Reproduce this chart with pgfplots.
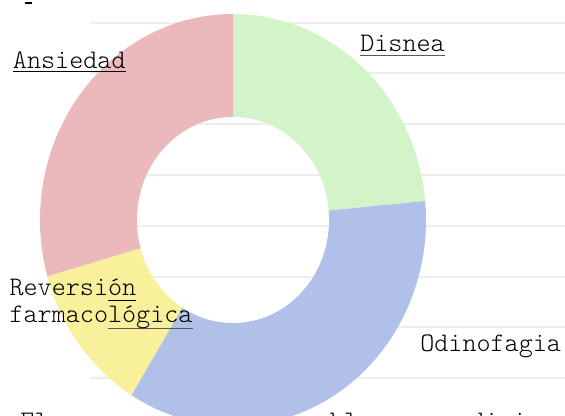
\documentclass[border=0pt]{standalone}
\usepackage{pgfplots}
\usepackage{pgfplotstable}
\pgfplotsset{compat=1.18}
\usepackage{fontspec}
\newfontfamily\lmlight{Latin Modern Mono Light}

\definecolor{cDisnea}{HTML}{D2F4C8}
\definecolor{cOdino}{HTML}{B0C0E8}
\definecolor{cRever}{HTML}{F9F09B}
\definecolor{cAnsie}{HTML}{EBB9BC}
\definecolor{linecol}{HTML}{EEEEEE}

% counts per category
\pgfplotstableread[col sep=comma]{
label,value
Disnea,4
Odinofagia,6
Reversion,2
Ansiedad,5
}\datatable
\pgfplotstablegetelem{0}{value}\of\datatable\let\vA\pgfplotsretval
\pgfplotstablegetelem{1}{value}\of\datatable\let\vB\pgfplotsretval
\pgfplotstablegetelem{2}{value}\of\datatable\let\vC\pgfplotsretval
\pgfplotstablegetelem{3}{value}\of\datatable\let\vD\pgfplotsretval
\pgfmathsetmacro\tot{\vA+\vB+\vC+\vD}
\pgfmathsetmacro\aA{90-360*\vA/\tot}
\pgfmathsetmacro\aB{\aA-360*\vB/\tot}
\pgfmathsetmacro\aC{\aB-360*\vC/\tot}
\pgfmathsetmacro\aD{\aC-360*\vD/\tot}

% underline: [color]{depth}{text}
\newcommand\ul[3][black]{\leavevmode\setbox0\hbox{#3}\rlap{\color{#1}\rule[-#2]{\wd0}{1pt}}\box0}
\newcommand\lblfont{\lmlight\fontsize{18.9}{19}\selectfont}

\begin{document}
\begin{tikzpicture}
\begin{axis}[
  scale only axis, width=14cm, height=10.3079cm,
  xmin=0, xmax=565, ymin=0, ymax=416,
  hide axis, clip=true,
]
\coordinate (bl) at (rel axis cs:0,0);
\coordinate (tr) at (rel axis cs:1,1);
\fill[white] (rel axis cs:0,0) rectangle (rel axis cs:1,1);
% ruled background
\pgfplotsinvokeforeach{393,343,292,241,190,139,89,38}{
  \draw[linecol, line width=1.4pt] (axis cs:90,#1) -- (axis cs:565,#1);
}
\fill[black] (axis cs:25,412) rectangle (axis cs:32,414.3);
% text behind the chart
\node[anchor=base west, inner sep=0pt, font=\lblfont] at (axis cs:20,-14) {El menor uso es tolerable como adicional};
% donut wedges
\addplot[fill=cDisnea, draw=none, domain=\aA:90, samples=120] ({233+193*cos(x)},{196+206*sin(x)}) -- (axis cs:233,196) -- cycle;
\addplot[fill=cOdino, draw=none, domain=\aB:\aA, samples=120] ({233+193*cos(x)},{196+206*sin(x)}) -- (axis cs:233,196) -- cycle;
\addplot[fill=cRever, draw=none, domain=\aC:\aB, samples=120] ({233+193*cos(x)},{196+206*sin(x)}) -- (axis cs:233,196) -- cycle;
\addplot[fill=cAnsie, draw=none, domain=\aD:\aC, samples=120] ({233+193*cos(x)},{196+206*sin(x)}) -- (axis cs:233,196) -- cycle;
% hole
\fill[white] (axis cs:233,196) ellipse [x radius=96, y radius=103];
\begin{scope}
\clip (axis cs:233,196) ellipse [x radius=96, y radius=103];
\pgfplotsinvokeforeach{292,241,190,139}{
  \draw[linecol, line width=1.4pt] (axis cs:90,#1) -- (axis cs:565,#1);
}
\end{scope}
% labels
\node[anchor=base west, inner sep=0pt, font=\lblfont] at (axis cs:12.7,347) {\ul{2.3pt}{Ansiedad}};
\node[anchor=base west, inner sep=0pt, font=\lblfont] at (axis cs:360,364) {\ul[black!65]{3pt}{Disnea}};
\node[anchor=base west, inner sep=0pt, font=\lblfont] at (axis cs:420,64.3) {Odinofagia};
\node[anchor=base west, inner sep=0pt, font=\lblfont] at (axis cs:9.3,120) {Reversi\ul{3.8pt}{ón}};
\node[anchor=base west, inner sep=0pt, font=\lblfont] at (axis cs:9.3,93) {farmaco\ul[black!65]{4.4pt}{lógica}};
\end{axis}
\pgfresetboundingbox
\path[use as bounding box] (bl) rectangle (tr);
\end{tikzpicture}
\end{document}
